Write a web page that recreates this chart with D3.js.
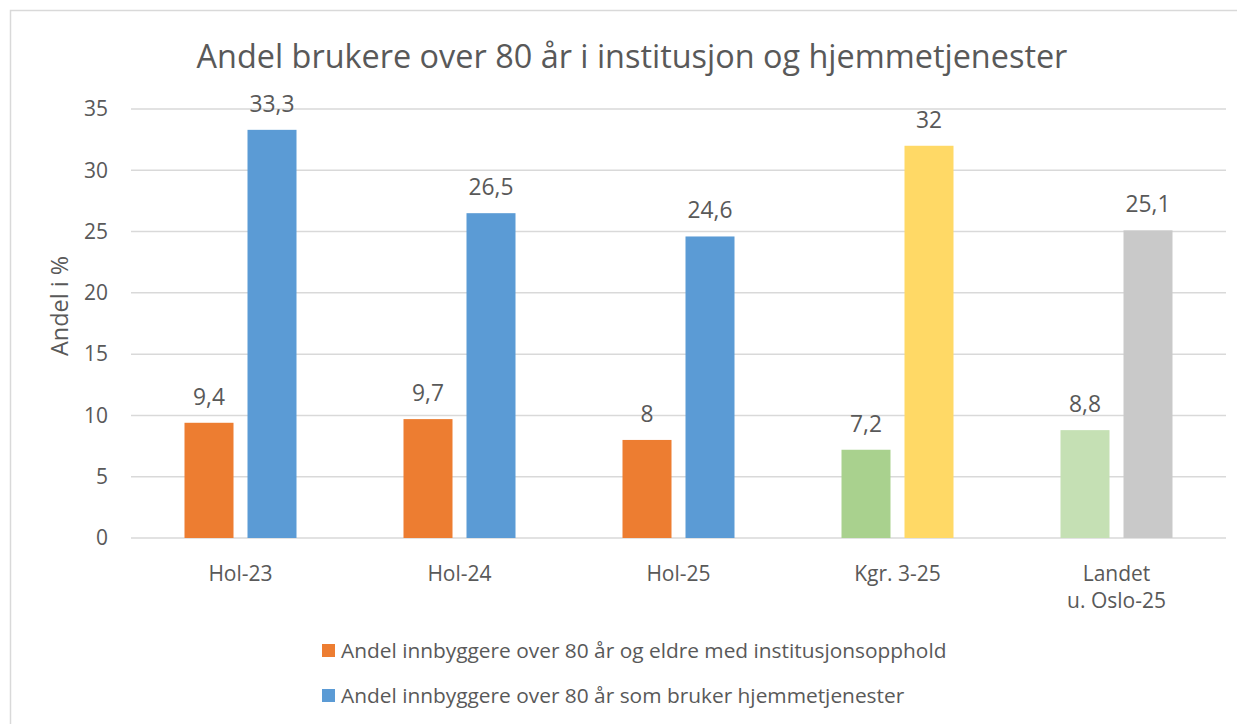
<!DOCTYPE html>
<html lang="en">
<head>
    <meta charset="UTF-8">
    <title>Andel brukere over 80 år</title>
    <script src="https://d3js.org/d3.v7.min.js"></script>
    <style>
        body {
            margin: 0;
            background: white;
            overflow: hidden;
        }
        svg text {
            font-family: "Open Sans", "Noto Sans", sans-serif;
            fill: #595959;
        }
    </style>
</head>
<body>
    <div id="chart"></div>
    <script>
        // data
        const categories = ["Hol-23", "Hol-24", "Hol-25", "Kgr. 3-25", "Landet\nu. Oslo-25"];
        const institusjon = [9.4, 9.7, 8, 7.2, 8.8];
        const hjemmetjenester = [33.3, 26.5, 24.6, 32, 25.1];
        const seriesNames = [
            "Andel innbyggere over 80 år og eldre med institusjonsopphold",
            "Andel innbyggere over 80 år som bruker hjemmetjenester"
        ];
        const yTicks = [0, 5, 10, 15, 20, 25, 30, 35];

        // point colours (the last two groups are recoloured in the original)
        const colorsA = ["#ED7D31", "#ED7D31", "#ED7D31", "#A9D18E", "#C5E0B4"];
        const colorsB = ["#5B9BD5", "#5B9BD5", "#5B9BD5", "#FFD966", "#C9C9C9"];

        const width = 1237, height = 724;
        const plot = {left: 131, right: 1226, top: 109, bottom: 538};

        const svg = d3.select("#chart").append("svg")
            .attr("width", width)
            .attr("height", height);

        // font size that makes a sample string a given width (Calibri stand-in)
        function fitSize(sample, target) {
            const t = svg.append("text").style("font-size", "20px").text(sample);
            const w = t.node().getComputedTextLength();
            t.remove();
            return 20 * target / w;
        }
        const tickSize = fitSize("10", 24);
        const labelSize = fitSize("33,3", 45);
        const catSize = fitSize("u. Oslo-25", 99);
        const legendSize = fitSize(seriesNames[0], 606);
        const axisTitleSize = fitSize("Andel i %", 100);
        const titleSize = fitSize("Andel brukere over 80 år i institusjon og hjemmetjenester", 871);

        // chart border
        svg.append("rect")
            .attr("x", 10.5).attr("y", 10.5)
            .attr("width", 1240).attr("height", 730)
            .attr("fill", "white")
            .attr("stroke", "#D9D9D9")
            .attr("stroke-width", 1.5);

        const x = d3.scaleBand()
            .domain(categories)
            .range([plot.left, plot.right]);

        const y = d3.scaleLinear()
            .domain([0, 35])
            .range([plot.bottom, plot.top]);

        const barW = 49, gap = 14;

        // gridlines
        svg.append("g").selectAll("line")
            .data(yTicks)
            .join("line")
            .attr("x1", plot.left).attr("x2", plot.right)
            .attr("y1", d => y(d)).attr("y2", d => y(d))
            .attr("stroke", "#D9D9D9")
            .attr("stroke-width", 1.5);

        // y tick labels
        svg.append("g").selectAll("text")
            .data(yTicks)
            .join("text")
            .attr("x", 108)
            .attr("y", d => y(d))
            .attr("dy", "0.35em")
            .attr("text-anchor", "end")
            .style("font-size", tickSize + "px")
            .text(d => d);

        // axis title
        svg.append("text")
            .attr("transform", "translate(60,306) rotate(-90)")
            .attr("text-anchor", "middle")
            .attr("dy", "0.35em")
            .style("font-size", axisTitleSize + "px")
            .text("Andel i %");

        const groups = [
            {values: institusjon, colors: colorsA, offset: -gap / 2 - barW},
            {values: hjemmetjenester, colors: colorsB, offset: gap / 2}
        ];

        groups.forEach(g => {
            const cx = (d, i) => x(categories[i]) + x.bandwidth() / 2 + g.offset;
            svg.append("g").selectAll("rect")
                .data(g.values)
                .join("rect")
                .attr("x", cx)
                .attr("y", d => y(d))
                .attr("width", barW)
                .attr("height", d => y(0) - y(d))
                .attr("fill", (d, i) => g.colors[i]);

            svg.append("g").selectAll("text")
                .data(g.values)
                .join("text")
                .attr("x", (d, i) => cx(d, i) + barW / 2)
                .attr("y", d => y(d) - 26)
                .attr("dy", "0.35em")
                .attr("text-anchor", "middle")
                .style("font-size", labelSize + "px")
                .text(d => String(d).replace(".", ","));
        });

        // category labels (may be two lines)
        svg.append("g").selectAll("text")
            .data(categories)
            .join("text")
            .attr("x", d => x(d) + x.bandwidth() / 2)
            .attr("y", 574)
            .attr("dy", "0.35em")
            .attr("text-anchor", "middle")
            .style("font-size", catSize + "px")
            .each(function(d) {
                const lines = d.split("\n");
                d3.select(this).selectAll("tspan")
                    .data(lines)
                    .join("tspan")
                    .attr("x", x(d) + x.bandwidth() / 2)
                    .attr("dy", (l, i) => i === 0 ? "0.35em" : 27)
                    .text(l => l);
            });

        // title
        svg.append("text")
            .attr("x", 632)
            .attr("y", 57)
            .attr("dy", "0.35em")
            .attr("text-anchor", "middle")
            .style("font-size", titleSize + "px")
            .text("Andel brukere over 80 år i institusjon og hjemmetjenester");

        // legend
        const legend = svg.append("g");
        const legendColors = [colorsA[0], colorsB[0]];
        seriesNames.forEach((name, i) => {
            const ly = 651 + i * 45;
            legend.append("rect")
                .attr("x", 322).attr("y", ly - 7)
                .attr("width", 13).attr("height", 13)
                .attr("fill", legendColors[i]);
            legend.append("text")
                .attr("x", 341)
                .attr("y", ly)
                .attr("dy", "0.35em")
                .style("font-size", legendSize + "px")
                .text(name);
        });
    </script>
</body>
</html>
